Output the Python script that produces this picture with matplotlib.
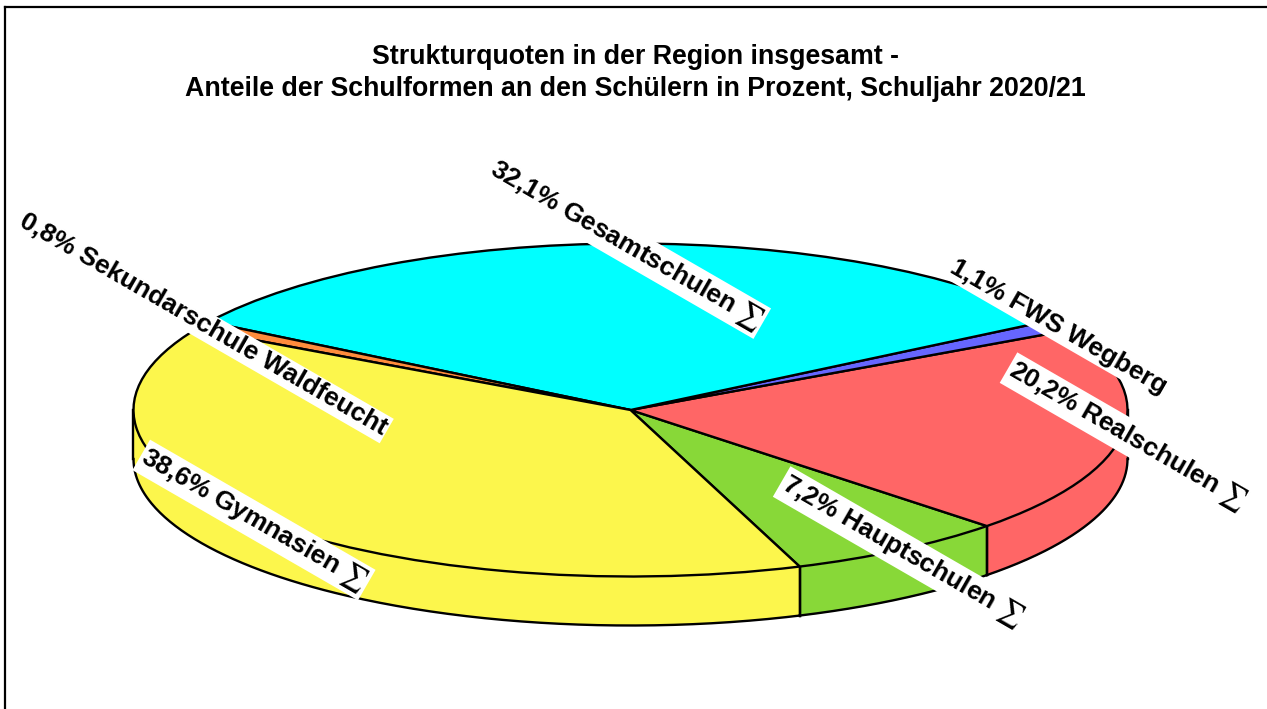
# coding: utf-8
import numpy as np
import matplotlib
matplotlib.use('Agg')
import matplotlib.pyplot as plt
from matplotlib.lines import Line2D

plt.rcParams['font.family'] = ['Liberation Sans', 'DejaVu Sans']
plt.rcParams['mathtext.fontset'] = 'stix'

W, H = 1267, 709
# ellipse of the pie in pixels
cx, cy, rx, ry, depth = 630.5, 410, 497, 166.5, 49

# order counterclockwise, starting at the green/yellow edge
names = ['7,2% Hauptschulen $\\sum$', '20,2% Realschulen $\\sum$', '1,1% FWS Wegberg',
         '32,1% Gesamtschulen $\\sum$', '0,8% Sekundarschule Waldfeucht', '38,6% Gymnasien $\\sum$']
values = [7.2, 20.2, 1.1, 32.1, 0.8, 38.6]
colors = ['#88D838', '#FF6666', '#6666FF', '#00FFFF', '#FF8C3C', '#FCF64C']
start_angle = -70.1

# label centres, pixels
label_x = [902, 1127, 1058, 626, 203, 254]
label_y = [551, 436, 327, 245, 325, 520]

fig = plt.figure(figsize=(W / 100, H / 100), dpi=100)
ax = fig.add_axes([0, 0, 1, 1])

# side wall first, only the front half can be seen
d = depth / ry
angles = start_angle + np.cumsum([0] + values) * 3.6
for i in range(len(values)):
    for lo, hi in [(angles[i], angles[i + 1]), (angles[i] - 360, angles[i + 1] - 360)]:
        lo2, hi2 = max(lo, -180), min(hi, 0)
        if lo2 >= hi2:
            continue
        t = np.radians(np.linspace(lo2, hi2, 200))
        ax.fill_between(np.cos(t), np.sin(t) - d, np.sin(t), color=colors[i], lw=0, zorder=1)
        ax.plot(np.cos(t), np.sin(t) - d, color='black', lw=1.7, zorder=2)
        for e in (lo2, hi2):
            x = np.cos(np.radians(e))
            y = np.sin(np.radians(e))
            ax.plot([x, x], [y, y - d], color='black', lw=1.7, zorder=2)

wedges, _ = ax.pie(values, colors=colors, startangle=start_angle, counterclock=True,
                   wedgeprops=dict(edgecolor='black', linewidth=1.7))
for w in wedges:
    w.set_zorder(3)

ax.set_aspect('auto')
ax.set_xlim(-cx / rx, (W - cx) / rx)
ax.set_ylim((cy - H) / ry, cy / ry)
ax.axis('off')

# rotated labels sit on white boxes
for name, x, y in zip(names, label_x, label_y):
    fig.text(x / W, 1 - y / H, name, rotation=-30, rotation_mode='anchor', ha='center', va='center',
             fontsize=19, fontweight='bold', color='black', zorder=5,
             bbox=dict(facecolor='white', edgecolor='none', pad=1.5))

fig.text(635.5 / W, 1 - 73 / H,
         'Strukturquoten in der Region insgesamt -\n'
         'Anteile der Schulformen an den Schülern in Prozent, Schuljahr 2020/21',
         ha='center', va='center', fontsize=19.25, fontweight='bold', color='black', linespacing=1.26)

# frame, only top and left are inside the picture
fig.add_artist(Line2D([5 / W, 5 / W], [0, 1 - 6.5 / H], color='black', lw=1.6, solid_capstyle='projecting'))
fig.add_artist(Line2D([5 / W, 1], [1 - 6.5 / H, 1 - 6.5 / H], color='black', lw=1.6))

plt.savefig('out.png', dpi=100)
